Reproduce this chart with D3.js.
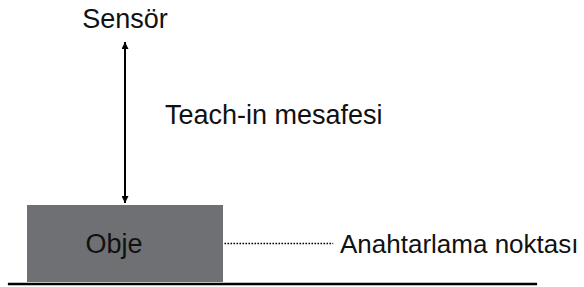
<!DOCTYPE html>
<html>
<head>
<meta charset="utf-8">
<script src="https://cdn.jsdelivr.net/npm/d3@7"></script>
<style>
  body { margin: 0; background: #fff; }
  text { font-family: "Liberation Sans", Arial, sans-serif; fill: #111; }
</style>
</head>
<body>
<script>
// labels of the diagram
const labels = ["Sensör", "Teach-in mesafesi", "Obje", "Anahtarlama noktası"];
// diagram units (0..~105 across, 0..~50 up from the ground)
const objectSpan = [0, 40];      // object box, horizontal
const objectDepth = [0, 15];     // object box, vertical (from ground up)
const teachRange = [15.4, 46.75];  // teach-in distance above ground
const groundSpan = [-3.9, 104.1];
const switchLevel = 7.5;

const svgWidth = 584;
const svgHeight = 287;

const svg = d3.select("body").append("svg")
    .attr("width", svgWidth)
    .attr("height", svgHeight);

svg.append("defs").selectAll("marker")
    .data(["start", "end"])
    .enter()
    .append("marker")
    .attr("id", d => "arr-" + d)
    .attr("viewBox", "0 0 10 10")
    .attr("refX", 10)
    .attr("refY", 5)
    .attr("markerUnits", "userSpaceOnUse")
    .attr("markerWidth", 9)
    .attr("markerHeight", 7)
    .attr("orient", d => d == "start" ? "auto-start-reverse" : "auto")
    .append("path")
    .attr("d", "M0,0 L10,5 L0,10 Z")
    .attr("fill", "#000");

const x = d3.scaleLinear().domain([0, 40]).range([27, 223]);
const y = d3.scaleLinear().domain([0, 15]).range([282, 205]);

// object box
svg.append("rect")
    .attr("x", x(objectSpan[0]))
    .attr("y", y(objectDepth[1]))
    .attr("width", x(objectSpan[1]) - x(objectSpan[0]))
    .attr("height", y(objectDepth[0]) - y(objectDepth[1]))
    .attr("fill", "#6e7073");

// ground
svg.append("line")
    .attr("x1", x(groundSpan[0])).attr("x2", x(groundSpan[1]))
    .attr("y1", y(-0.4)).attr("y2", y(-0.4))
    .attr("stroke", "#000")
    .attr("stroke-width", 2.5);

// teach-in arrow
svg.append("line")
    .attr("x1", x(20)).attr("x2", x(20))
    .attr("y1", y(teachRange[0])).attr("y2", y(teachRange[1]))
    .attr("stroke", "#000")
    .attr("stroke-width", 2)
    .attr("marker-start", "url(#arr-start)")
    .attr("marker-end", "url(#arr-end)");

// switching point dotted line
svg.append("line")
    .attr("x1", x(40.3)).attr("x2", x(62.5))
    .attr("y1", y(switchLevel)).attr("y2", y(switchLevel))
    .attr("stroke", "#000")
    .attr("stroke-width", 1.6)
    .attr("stroke-dasharray", "1.6,1.4");

const fs = 27;
svg.append("text")
    .attr("x", x(20)).attr("y", 28)
    .attr("text-anchor", "middle")
    .style("font-size", fs + "px")
    .text(labels[0]);

svg.append("text")
    .attr("x", 165).attr("y", y(30.8))
    .style("font-size", fs + "px")
    .text(labels[1]);

svg.append("text")
    .attr("x", 114).attr("y", y(5.7))
    .attr("text-anchor", "middle")
    .style("font-size", fs + "px")
    .text(labels[2]);

svg.append("text")
    .attr("x", 340).attr("y", y(5.7))
    .style("font-size", "26px")
    .text(labels[3]);
</script>
</body>
</html>
